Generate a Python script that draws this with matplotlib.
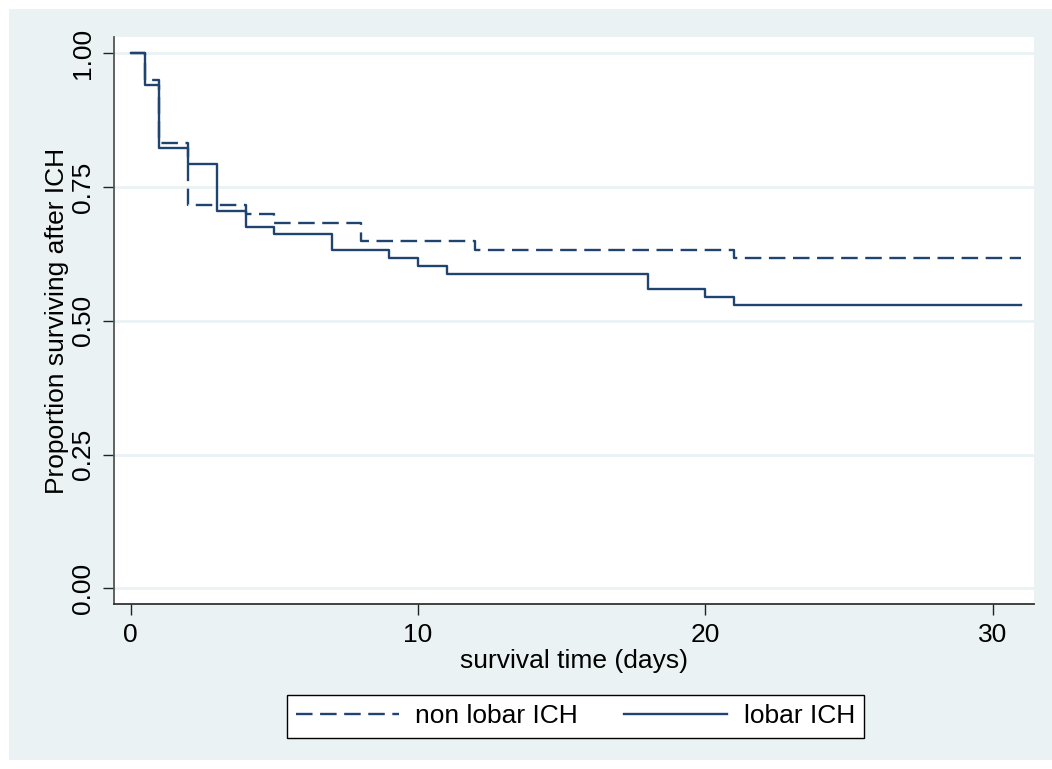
# Kaplan-Meier style survival plot (Stata s2color look)
import matplotlib
matplotlib.use("Agg")
import matplotlib.pyplot as plt
from matplotlib.patches import Rectangle

# Data
end_time = 31

# non lobar ICH
nonlobar_times = [0, 0.5, 1, 2, 4, 5, 8, 12, 21]
nonlobar_surv = [1.0, 0.950, 0.833, 0.717, 0.700, 0.683, 0.650, 0.633, 0.617]

# lobar ICH
lobar_times = [0, 0.5, 1, 2, 3, 4, 5, 7, 9, 10, 11, 18, 20, 21]
lobar_surv = [1.0, 0.941, 0.824, 0.794, 0.706, 0.676, 0.662, 0.632,
              0.618, 0.603, 0.588, 0.559, 0.544, 0.529]

x_ticks = [0, 10, 20, 30]
y_ticks = [0.0, 0.25, 0.5, 0.75, 1.0]
y_ticklabels = ["0.00", "0.25", "0.50", "0.75", "1.00"]

BG = "#eaf2f3"
NAVY = "#1f4470"
FS = 19

plt.rcParams['font.family'] = ['Liberation Sans', 'DejaVu Sans']

fig = plt.figure(figsize=(10.52, 7.69), dpi=100)
fig.patch.set_facecolor("white")
# graph region background
bg = Rectangle((9 / 1052, 9 / 769), 1 - 9 / 1052, (760 - 9) / 769,
               transform=fig.transFigure, facecolor=BG,
               edgecolor="none", zorder=-10)
fig.add_artist(bg)

ax = fig.add_axes([114 / 1052, 1 - 604 / 769, (1034 - 114) / 1052, (604 - 37) / 769])
ax.set_facecolor("white")

# step curves, extended to the end of follow-up
ax.step(nonlobar_times + [end_time], nonlobar_surv + [nonlobar_surv[-1]],
        where="post", color=NAVY, lw=1.7, dashes=(7, 3.2),
        label="non lobar ICH", zorder=3)
ax.step(lobar_times + [end_time], lobar_surv + [lobar_surv[-1]],
        where="post", color=NAVY, lw=1.7, label="lobar ICH", zorder=3)

ax.set_xlim(-0.58, 31.44)
ax.set_ylim(-0.029, 1.0305)
ax.set_xticks(x_ticks)
ax.set_yticks(y_ticks)
ax.set_yticklabels(y_ticklabels, rotation=90, va="center")

# horizontal grid lines
for y in y_ticks:
    ax.axhline(y, color=BG, lw=2, zorder=1)

for side in ["top", "right"]:
    ax.spines[side].set_visible(False)
ax.spines["left"].set_color("#555555")
ax.spines["bottom"].set_color("#333333")
ax.spines["left"].set_linewidth(1.3)
ax.spines["bottom"].set_linewidth(1.3)

ax.tick_params(axis="both", direction="out", length=8, width=1,
               labelsize=FS, colors="#222222", labelcolor="black")
ax.tick_params(axis="x", pad=6)
ax.tick_params(axis="y", pad=6)

ax.set_xlabel("survival time (days)", fontsize=FS, labelpad=1)
ax.set_ylabel("Proportion surviving after ICH", fontsize=FS, labelpad=1)

leg = ax.legend(loc="center", bbox_to_anchor=(575.5 / 1052, 1 - 716.4 / 769),
                bbox_transform=fig.transFigure, ncol=2, fontsize=FS,
                frameon=True, fancybox=False, handlelength=3.9,
                handletextpad=0.62, columnspacing=1.75, borderpad=0.35)
leg.get_frame().set_edgecolor("black")
leg.get_frame().set_linewidth(1.0)
leg.get_frame().set_facecolor("white")
leg.get_frame().set_alpha(1)

fig.savefig("out.png", dpi=100, facecolor=fig.get_facecolor())
